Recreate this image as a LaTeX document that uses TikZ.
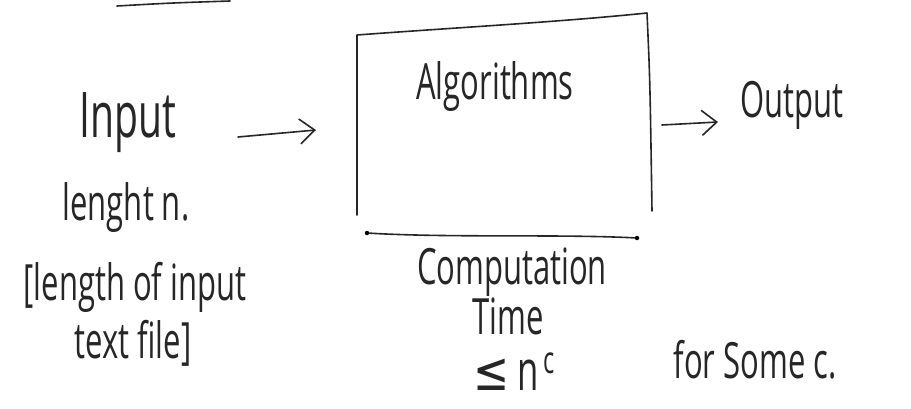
\documentclass[tikz,border=0pt]{standalone}
\usepackage{fontspec}
\newfontfamily\hand[FakeStretch=0.62]{Open Sans}
\newfontfamily\sym[FakeStretch=0.8]{DejaVu Sans}
\usetikzlibrary{arrows.meta}
\begin{document}
\begin{tikzpicture}[x=1pt,y=-1pt,
  pen/.style={line width=1.6pt,line cap=round,line join=round,black!85},
  txt/.style={font=\hand\fontsize{50}{54}\selectfont,inner sep=0pt,anchor=base,text=black!85},
  big/.style={font=\hand\fontsize{63}{66}\selectfont},
  arr/.style={pen,-{Straight Barb[length=15pt,width=25pt,line width=1.6pt]}},
  dotm/.style={circle,fill=black,inner sep=0pt,minimum size=4.5pt}]
\useasboundingbox (0,0) rectangle (911,409);
% stray stroke at the top
\draw[pen] (117,6) .. controls (170,3) .. (230,1);
% the algorithm box
\draw[pen] (357,215) -- (357,35) .. controls (450,28) and (560,22) .. (647,13)
  .. controls (650,80) .. (652,211);
\node[dotm] (bl) at (367,233) {};
\node[dotm] (br) at (637,238) {};
\draw[pen] (bl) .. controls (450,238) and (560,234) .. (br);
\node[txt] (alg) at (495,100) {Algorithms};
% left texts
\node[txt,big] (inp) at (128,138) {Input};
\node[txt] (len) at (126,220) {lenght n.};
\node[txt] (brk) at (135,300) {[length of input};
\node[txt] (tfl) at (133,358) {text file]};
% right texts
\node[txt] (out) at (792,118) {Output};
\node[txt] (comp) at (512,284) {Computation};
\node[txt] (time) at (508,334) {Time};
\node[txt] (le) at (514,390) {{\sym\fontsize{54}{56}\selectfont ≤}\hspace{8pt}{\fontsize{56}{58}\selectfont n}\hspace{5pt}\raisebox{17pt}{\fontsize{38}{40}\selectfont c}};
\node[txt] (some) at (755,378) {for Some c.};
% arrows
\coordinate (a1) at (238,137);
\coordinate (a2) at (316,130);
\coordinate (b1) at (662,125);
\coordinate (b2) at (718,122);
\draw[arr] (a1) -- (a2);
\draw[arr] (b1) -- (b2);
\end{tikzpicture}
\end{document}
